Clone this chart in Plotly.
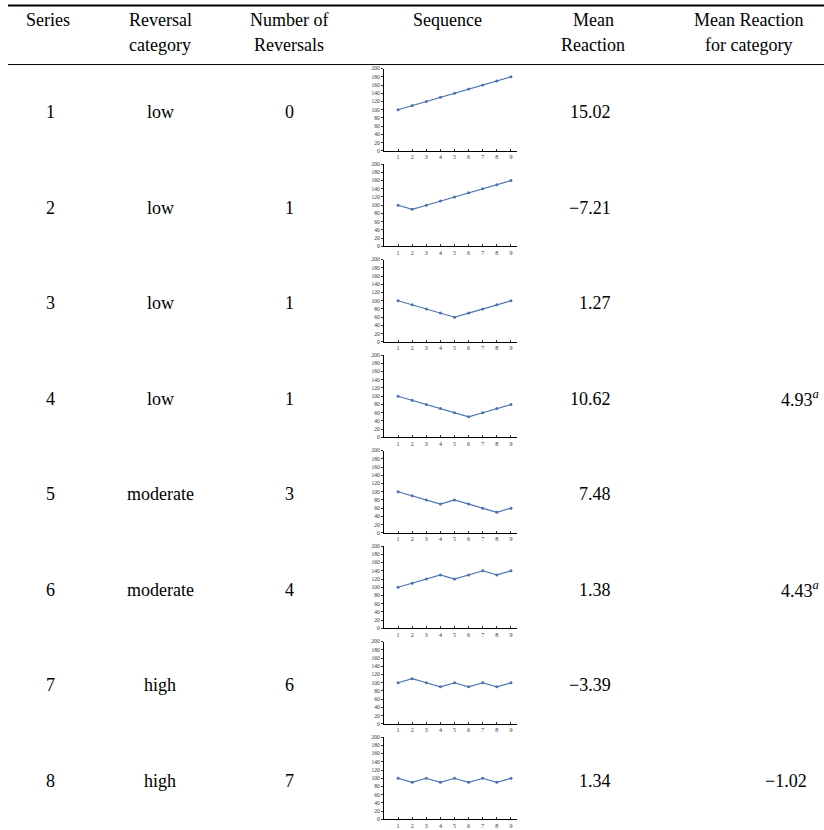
import plotly.graph_objects as go

W, H = 824, 830

series_ids = ["1", "2", "3", "4", "5", "6", "7", "8"]
categories = ["low", "low", "low", "low", "moderate", "moderate", "high", "high"]
n_reversals = ["0", "1", "1", "1", "3", "4", "6", "7"]
mean_reaction = ["15.02", "\u22127.21", "1.27", "10.62", "7.48", "1.38", "\u22123.39", "1.34"]
cat_mean = ["", "", "", "4.93<sup><i>a</i></sup>", "", "4.43<sup><i>a</i></sup>", "", "\u22121.02"]

x_steps = [1, 2, 3, 4, 5, 6, 7, 8, 9]
seq1 = [100, 110, 120, 130, 140, 150, 160, 170, 180]
seq2 = [100, 90, 100, 110, 120, 130, 140, 150, 160]
seq3 = [100, 90, 80, 70, 60, 70, 80, 90, 100]
seq4 = [100, 90, 80, 70, 60, 50, 60, 70, 80]
seq5 = [100, 90, 80, 70, 80, 70, 60, 50, 60]
seq6 = [100, 110, 120, 130, 120, 130, 140, 130, 140]
seq7 = [100, 110, 100, 90, 100, 90, 100, 90, 100]
seq8 = [100, 90, 100, 90, 100, 90, 100, 90, 100]
sequences = [seq1, seq2, seq3, seq4, seq5, seq6, seq7, seq8]

headers1 = ["Series", "Reversal", "Number of", "Sequence", "Mean", "Mean Reaction"]
headers2 = ["", "category", "Reversals", "", "Reaction", "for category"]
col_x = [48, 160, 289, 447, 593, 748]

FONT = "Liberation Serif"
FS = 18
LINE = "#4c72b0"

def px(x):
    return x / W

def py(y):
    return 1 - y / H

fig = go.Figure()
annotations = []
shapes = []

# rules
shapes.append(dict(type="line", xref="paper", yref="paper", x0=px(8), x1=1, y0=py(2.5), y1=py(2.5),
                   line=dict(color="black", width=2)))
shapes.append(dict(type="line", xref="paper", yref="paper", x0=px(8), x1=1, y0=py(62), y1=py(62),
                   line=dict(color="black", width=1)))

for h1, h2, cx in zip(headers1, headers2, col_x):
    if h1:
        annotations.append(dict(text=h1, x=px(cx), y=py(17), xref="paper", yref="paper",
                                showarrow=False, xanchor="center", yanchor="middle",
                                font=dict(family=FONT, size=FS, color="black")))
    if h2:
        annotations.append(dict(text=h2, x=px(cx), y=py(42), xref="paper", yref="paper",
                                showarrow=False, xanchor="center", yanchor="middle",
                                font=dict(family=FONT, size=FS, color="black")))

pitch = 96.2
layout_axes = {}
for i in range(8):
    yc = 110 + pitch * i
    top = 66 + pitch * i
    bot = 149 + pitch * i
    for txt, cx in [(series_ids[i], 50), (categories[i], 160), (n_reversals[i], 289)]:
        annotations.append(dict(text=txt, x=px(cx), y=py(yc), xref="paper", yref="paper",
                                showarrow=False, xanchor="center", yanchor="middle",
                                font=dict(family=FONT, size=FS, color="black")))
    annotations.append(dict(text=mean_reaction[i], x=px(613), y=py(yc), xref="paper", yref="paper",
                            showarrow=False, xanchor="right", yanchor="middle",
                            font=dict(family=FONT, size=FS, color="black")))
    if cat_mean[i]:
        right = 821 if "sup" in cat_mean[i] else 809
        annotations.append(dict(text=cat_mean[i], x=px(right), y=py(yc), xref="paper", yref="paper",
                                showarrow=False, xanchor="right", yanchor="middle",
                                font=dict(family=FONT, size=FS, color="black")))
    k = "" if i == 0 else str(i + 1)
    fig.add_trace(go.Scatter(x=x_steps, y=sequences[i], mode="lines+markers",
                             line=dict(color=LINE, width=1.2),
                             marker=dict(color=LINE, size=3),
                             xaxis="x" + k, yaxis="y" + k, showlegend=False, hoverinfo="skip"))
    layout_axes["xaxis" + k] = dict(domain=[px(384), px(517)], anchor="y" + k, range=[0, 9.43],
                                    tickvals=x_steps, ticks="inside", ticklen=2, tickwidth=0.6,
                                    tickcolor="#333", showline=True, linecolor="black", linewidth=1.2,
                                    showgrid=False, zeroline=False,
                                    tickfont=dict(family=FONT, size=6, color="#333"))
    layout_axes["yaxis" + k] = dict(domain=[py(bot), py(top)], anchor="x" + k, range=[0, 200],
                                    tickvals=list(range(0, 201, 20)), ticks="outside", ticklen=2,
                                    tickwidth=0.6, tickcolor="#333", showline=True, linecolor="black",
                                    linewidth=1.2, showgrid=False, zeroline=False,
                                    tickfont=dict(family=FONT, size=5.5, color="#333"))

fig.update_layout(width=W, height=H, margin=dict(l=0, r=0, t=0, b=0),
                  paper_bgcolor="white", plot_bgcolor="white",
                  annotations=annotations, shapes=shapes, **layout_axes)

fig.write_html("out.html", config={"displayModeBar": False},
               post_script="document.body.style.margin='0';document.body.style.overflow='hidden';")
